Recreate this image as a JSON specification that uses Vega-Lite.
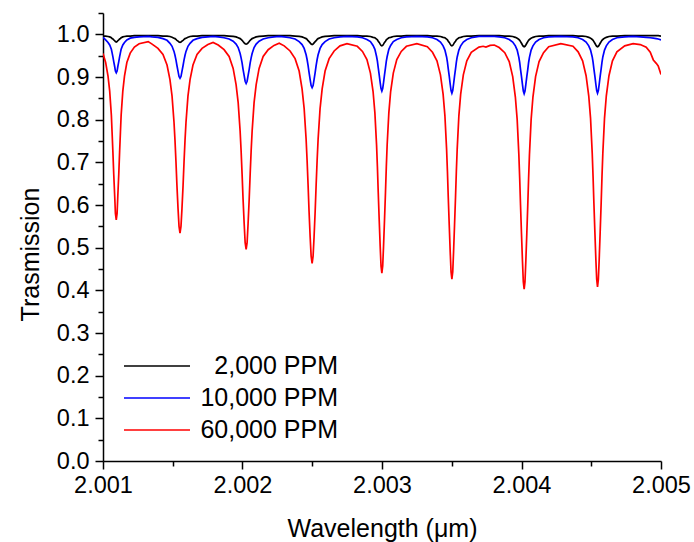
{
"$schema": "https://vega.github.io/schema/vega-lite/v6.json",
"width": 558, "height": 448,
"autosize": "none",
"padding": {"left": 103, "top": 13, "right": 33, "bottom": 81},
"background": "white",
"config": {
  "view": {"stroke": null},
  "font": "Liberation Sans",
  "axis": {"domainColor": "#000", "domainWidth": 1.5, "tickColor": "#000", "tickWidth": 1.5, "labelColor": "#000", "titleColor": "#000", "grid": false, "labelFont": "Liberation Sans", "titleFont": "Liberation Sans", "titleFontWeight": "normal"}
},
"data": {"values": [
{"w":2.001000,"k":0.996,"b":0.993,"r":0.955},
{"w":2.001019,"k":0.996,"b":0.987,"r":0.934},
{"w":2.001036,"k":0.995,"b":0.981,"r":0.902},
{"w":2.001048,"k":0.994,"b":0.975,"r":0.867},
{"w":2.001060,"k":0.992,"b":0.965,"r":0.810},
{"w":2.001065,"k":0.990,"b":0.957,"r":0.771},
{"w":2.001071,"k":0.989,"b":0.947,"r":0.724},
{"w":2.001077,"k":0.987,"b":0.936,"r":0.672},
{"w":2.001084,"k":0.985,"b":0.924,"r":0.620},
{"w":2.001089,"k":0.983,"b":0.914,"r":0.580},
{"w":2.001095,"k":0.982,"b":0.910,"r":0.565},
{"w":2.001101,"k":0.983,"b":0.914,"r":0.580},
{"w":2.001106,"k":0.985,"b":0.924,"r":0.620},
{"w":2.001113,"k":0.987,"b":0.936,"r":0.672},
{"w":2.001119,"k":0.989,"b":0.947,"r":0.724},
{"w":2.001125,"k":0.990,"b":0.957,"r":0.771},
{"w":2.001130,"k":0.992,"b":0.965,"r":0.810},
{"w":2.001142,"k":0.994,"b":0.975,"r":0.867},
{"w":2.001154,"k":0.995,"b":0.981,"r":0.902},
{"w":2.001171,"k":0.996,"b":0.987,"r":0.934},
{"w":2.001195,"k":0.996,"b":0.991,"r":0.956},
{"w":2.001225,"k":0.997,"b":0.993,"r":0.970},
{"w":2.001259,"k":0.997,"b":0.994,"r":0.978},
{"w":2.001324,"k":0.997,"b":0.995,"r":0.983},
{"w":2.001352,"k":0.997,"b":0.994,"r":0.977},
{"w":2.001394,"k":0.997,"b":0.993,"r":0.967},
{"w":2.001430,"k":0.996,"b":0.990,"r":0.953},
{"w":2.001459,"k":0.996,"b":0.986,"r":0.928},
{"w":2.001480,"k":0.995,"b":0.979,"r":0.894},
{"w":2.001495,"k":0.993,"b":0.972,"r":0.855},
{"w":2.001509,"k":0.991,"b":0.960,"r":0.794},
{"w":2.001516,"k":0.990,"b":0.951,"r":0.752},
{"w":2.001523,"k":0.988,"b":0.940,"r":0.702},
{"w":2.001530,"k":0.986,"b":0.927,"r":0.646},
{"w":2.001538,"k":0.984,"b":0.913,"r":0.591},
{"w":2.001545,"k":0.982,"b":0.901,"r":0.550},
{"w":2.001552,"k":0.981,"b":0.897,"r":0.534},
{"w":2.001559,"k":0.982,"b":0.901,"r":0.550},
{"w":2.001566,"k":0.984,"b":0.913,"r":0.591},
{"w":2.001574,"k":0.986,"b":0.927,"r":0.646},
{"w":2.001581,"k":0.988,"b":0.940,"r":0.702},
{"w":2.001588,"k":0.990,"b":0.951,"r":0.752},
{"w":2.001595,"k":0.991,"b":0.960,"r":0.794},
{"w":2.001609,"k":0.993,"b":0.972,"r":0.855},
{"w":2.001624,"k":0.995,"b":0.979,"r":0.894},
{"w":2.001645,"k":0.996,"b":0.986,"r":0.928},
{"w":2.001674,"k":0.996,"b":0.990,"r":0.953},
{"w":2.001710,"k":0.997,"b":0.993,"r":0.967},
{"w":2.001752,"k":0.997,"b":0.994,"r":0.976},
{"w":2.001789,"k":0.997,"b":0.995,"r":0.981},
{"w":2.001826,"k":0.997,"b":0.994,"r":0.975},
{"w":2.001868,"k":0.997,"b":0.992,"r":0.964},
{"w":2.001904,"k":0.996,"b":0.989,"r":0.948},
{"w":2.001933,"k":0.995,"b":0.984,"r":0.920},
{"w":2.001954,"k":0.994,"b":0.977,"r":0.882},
{"w":2.001969,"k":0.992,"b":0.969,"r":0.840},
{"w":2.001983,"k":0.990,"b":0.955,"r":0.773},
{"w":2.001990,"k":0.988,"b":0.945,"r":0.727},
{"w":2.001997,"k":0.986,"b":0.933,"r":0.673},
{"w":2.002004,"k":0.983,"b":0.918,"r":0.614},
{"w":2.002012,"k":0.980,"b":0.903,"r":0.556},
{"w":2.002019,"k":0.978,"b":0.890,"r":0.512},
{"w":2.002026,"k":0.977,"b":0.885,"r":0.496},
{"w":2.002033,"k":0.978,"b":0.890,"r":0.512},
{"w":2.002040,"k":0.980,"b":0.903,"r":0.556},
{"w":2.002048,"k":0.983,"b":0.918,"r":0.614},
{"w":2.002055,"k":0.986,"b":0.933,"r":0.673},
{"w":2.002062,"k":0.988,"b":0.945,"r":0.727},
{"w":2.002069,"k":0.990,"b":0.955,"r":0.773},
{"w":2.002083,"k":0.992,"b":0.969,"r":0.840},
{"w":2.002098,"k":0.994,"b":0.977,"r":0.882},
{"w":2.002119,"k":0.995,"b":0.984,"r":0.920},
{"w":2.002148,"k":0.996,"b":0.989,"r":0.948},
{"w":2.002184,"k":0.997,"b":0.992,"r":0.964},
{"w":2.002226,"k":0.997,"b":0.994,"r":0.974},
{"w":2.002263,"k":0.997,"b":0.995,"r":0.979},
{"w":2.002299,"k":0.997,"b":0.994,"r":0.973},
{"w":2.002341,"k":0.997,"b":0.992,"r":0.961},
{"w":2.002377,"k":0.996,"b":0.989,"r":0.943},
{"w":2.002406,"k":0.995,"b":0.983,"r":0.914},
{"w":2.002427,"k":0.994,"b":0.976,"r":0.872},
{"w":2.002442,"k":0.992,"b":0.967,"r":0.826},
{"w":2.002456,"k":0.990,"b":0.952,"r":0.754},
{"w":2.002463,"k":0.988,"b":0.941,"r":0.705},
{"w":2.002470,"k":0.985,"b":0.927,"r":0.648},
{"w":2.002477,"k":0.983,"b":0.911,"r":0.586},
{"w":2.002485,"k":0.980,"b":0.894,"r":0.525},
{"w":2.002492,"k":0.977,"b":0.880,"r":0.480},
{"w":2.002499,"k":0.976,"b":0.875,"r":0.463},
{"w":2.002506,"k":0.977,"b":0.880,"r":0.480},
{"w":2.002513,"k":0.980,"b":0.894,"r":0.525},
{"w":2.002521,"k":0.983,"b":0.911,"r":0.586},
{"w":2.002528,"k":0.985,"b":0.927,"r":0.648},
{"w":2.002535,"k":0.988,"b":0.941,"r":0.705},
{"w":2.002542,"k":0.990,"b":0.952,"r":0.754},
{"w":2.002556,"k":0.992,"b":0.967,"r":0.826},
{"w":2.002571,"k":0.994,"b":0.976,"r":0.872},
{"w":2.002592,"k":0.995,"b":0.983,"r":0.914},
{"w":2.002621,"k":0.996,"b":0.989,"r":0.943},
{"w":2.002657,"k":0.997,"b":0.992,"r":0.961},
{"w":2.002699,"k":0.997,"b":0.994,"r":0.973},
{"w":2.002749,"k":0.997,"b":0.995,"r":0.978},
{"w":2.002823,"k":0.997,"b":0.994,"r":0.972},
{"w":2.002860,"k":0.996,"b":0.992,"r":0.960},
{"w":2.002892,"k":0.996,"b":0.988,"r":0.941},
{"w":2.002917,"k":0.995,"b":0.983,"r":0.909},
{"w":2.002936,"k":0.993,"b":0.974,"r":0.866},
{"w":2.002949,"k":0.992,"b":0.965,"r":0.816},
{"w":2.002961,"k":0.989,"b":0.948,"r":0.741},
{"w":2.002967,"k":0.987,"b":0.937,"r":0.690},
{"w":2.002973,"k":0.984,"b":0.922,"r":0.630},
{"w":2.002980,"k":0.981,"b":0.905,"r":0.565},
{"w":2.002987,"k":0.977,"b":0.887,"r":0.503},
{"w":2.002993,"k":0.974,"b":0.873,"r":0.457},
{"w":2.002999,"k":0.973,"b":0.867,"r":0.440},
{"w":2.003005,"k":0.974,"b":0.873,"r":0.457},
{"w":2.003011,"k":0.977,"b":0.887,"r":0.503},
{"w":2.003018,"k":0.981,"b":0.905,"r":0.565},
{"w":2.003025,"k":0.984,"b":0.922,"r":0.630},
{"w":2.003031,"k":0.987,"b":0.937,"r":0.690},
{"w":2.003037,"k":0.989,"b":0.948,"r":0.741},
{"w":2.003049,"k":0.992,"b":0.965,"r":0.816},
{"w":2.003062,"k":0.993,"b":0.974,"r":0.866},
{"w":2.003081,"k":0.995,"b":0.983,"r":0.909},
{"w":2.003106,"k":0.996,"b":0.988,"r":0.941},
{"w":2.003138,"k":0.996,"b":0.992,"r":0.960},
{"w":2.003175,"k":0.997,"b":0.994,"r":0.972},
{"w":2.003250,"k":0.997,"b":0.995,"r":0.978},
{"w":2.003325,"k":0.997,"b":0.994,"r":0.971},
{"w":2.003362,"k":0.996,"b":0.992,"r":0.958},
{"w":2.003394,"k":0.996,"b":0.988,"r":0.938},
{"w":2.003419,"k":0.995,"b":0.982,"r":0.905},
{"w":2.003438,"k":0.993,"b":0.973,"r":0.860},
{"w":2.003451,"k":0.992,"b":0.963,"r":0.809},
{"w":2.003463,"k":0.989,"b":0.947,"r":0.731},
{"w":2.003469,"k":0.987,"b":0.935,"r":0.679},
{"w":2.003475,"k":0.984,"b":0.919,"r":0.618},
{"w":2.003482,"k":0.981,"b":0.902,"r":0.553},
{"w":2.003489,"k":0.977,"b":0.883,"r":0.490},
{"w":2.003495,"k":0.974,"b":0.868,"r":0.443},
{"w":2.003501,"k":0.973,"b":0.862,"r":0.426},
{"w":2.003507,"k":0.974,"b":0.868,"r":0.443},
{"w":2.003513,"k":0.977,"b":0.883,"r":0.490},
{"w":2.003520,"k":0.981,"b":0.902,"r":0.553},
{"w":2.003527,"k":0.984,"b":0.919,"r":0.618},
{"w":2.003533,"k":0.987,"b":0.935,"r":0.679},
{"w":2.003539,"k":0.989,"b":0.947,"r":0.731},
{"w":2.003551,"k":0.992,"b":0.963,"r":0.809},
{"w":2.003564,"k":0.993,"b":0.973,"r":0.860},
{"w":2.003583,"k":0.995,"b":0.982,"r":0.905},
{"w":2.003608,"k":0.996,"b":0.988,"r":0.938},
{"w":2.003640,"k":0.996,"b":0.992,"r":0.958},
{"w":2.003695,"k":0.997,"b":0.995,"r":0.970},
{"w":2.003725,"k":0.997,"b":0.995,"r":0.972},
{"w":2.003745,"k":0.997,"b":0.995,"r":0.970},
{"w":2.003775,"k":0.997,"b":0.995,"r":0.974},
{"w":2.003805,"k":0.997,"b":0.995,"r":0.975},
{"w":2.003840,"k":0.997,"b":0.994,"r":0.969},
{"w":2.003880,"k":0.996,"b":0.992,"r":0.957},
{"w":2.003912,"k":0.996,"b":0.988,"r":0.936},
{"w":2.003937,"k":0.995,"b":0.982,"r":0.901},
{"w":2.003956,"k":0.993,"b":0.973,"r":0.853},
{"w":2.003969,"k":0.991,"b":0.963,"r":0.800},
{"w":2.003981,"k":0.988,"b":0.946,"r":0.718},
{"w":2.003987,"k":0.986,"b":0.934,"r":0.663},
{"w":2.003993,"k":0.983,"b":0.918,"r":0.600},
{"w":2.004000,"k":0.979,"b":0.901,"r":0.532},
{"w":2.004007,"k":0.975,"b":0.882,"r":0.468},
{"w":2.004013,"k":0.972,"b":0.867,"r":0.420},
{"w":2.004019,"k":0.971,"b":0.861,"r":0.403},
{"w":2.004025,"k":0.972,"b":0.867,"r":0.420},
{"w":2.004031,"k":0.975,"b":0.882,"r":0.468},
{"w":2.004038,"k":0.979,"b":0.901,"r":0.532},
{"w":2.004045,"k":0.983,"b":0.918,"r":0.600},
{"w":2.004051,"k":0.986,"b":0.934,"r":0.663},
{"w":2.004057,"k":0.988,"b":0.946,"r":0.718},
{"w":2.004069,"k":0.991,"b":0.963,"r":0.800},
{"w":2.004082,"k":0.993,"b":0.973,"r":0.853},
{"w":2.004101,"k":0.995,"b":0.982,"r":0.901},
{"w":2.004126,"k":0.996,"b":0.988,"r":0.936},
{"w":2.004158,"k":0.996,"b":0.992,"r":0.957},
{"w":2.004195,"k":0.997,"b":0.994,"r":0.971},
{"w":2.004282,"k":0.997,"b":0.995,"r":0.978},
{"w":2.004369,"k":0.997,"b":0.994,"r":0.972},
{"w":2.004406,"k":0.996,"b":0.992,"r":0.959},
{"w":2.004438,"k":0.996,"b":0.988,"r":0.938},
{"w":2.004463,"k":0.995,"b":0.982,"r":0.903},
{"w":2.004482,"k":0.993,"b":0.973,"r":0.856},
{"w":2.004495,"k":0.991,"b":0.963,"r":0.803},
{"w":2.004507,"k":0.988,"b":0.947,"r":0.721},
{"w":2.004513,"k":0.986,"b":0.935,"r":0.667},
{"w":2.004519,"k":0.983,"b":0.919,"r":0.604},
{"w":2.004526,"k":0.979,"b":0.902,"r":0.537},
{"w":2.004533,"k":0.975,"b":0.883,"r":0.473},
{"w":2.004539,"k":0.972,"b":0.868,"r":0.426},
{"w":2.004545,"k":0.971,"b":0.862,"r":0.408},
{"w":2.004551,"k":0.972,"b":0.868,"r":0.426},
{"w":2.004557,"k":0.975,"b":0.883,"r":0.473},
{"w":2.004564,"k":0.979,"b":0.902,"r":0.537},
{"w":2.004571,"k":0.983,"b":0.919,"r":0.604},
{"w":2.004577,"k":0.986,"b":0.935,"r":0.667},
{"w":2.004583,"k":0.988,"b":0.947,"r":0.721},
{"w":2.004595,"k":0.991,"b":0.963,"r":0.803},
{"w":2.004608,"k":0.993,"b":0.973,"r":0.856},
{"w":2.004627,"k":0.995,"b":0.982,"r":0.903},
{"w":2.004652,"k":0.996,"b":0.988,"r":0.938},
{"w":2.004684,"k":0.996,"b":0.992,"r":0.959},
{"w":2.004740,"k":0.997,"b":0.994,"r":0.973},
{"w":2.004800,"k":0.997,"b":0.995,"r":0.978},
{"w":2.004851,"k":0.997,"b":0.994,"r":0.976},
{"w":2.004894,"k":0.997,"b":0.993,"r":0.970},
{"w":2.004923,"k":0.997,"b":0.992,"r":0.958},
{"w":2.004945,"k":0.997,"b":0.991,"r":0.940},
{"w":2.004966,"k":0.997,"b":0.990,"r":0.932},
{"w":2.004980,"k":0.997,"b":0.989,"r":0.926},
{"w":2.005000,"k":0.996,"b":0.987,"r":0.906}
]},
"transform": [{"fold": ["k", "b", "r"], "as": ["s", "t"]}],
"layer": [
  {
    "mark": {"type": "line", "strokeWidth": 1.7, "clip": true},
    "encoding": {
      "x": {"field": "w", "type": "quantitative",
        "scale": {"domain": [2.001, 2.005], "nice": false, "zero": false},
        "axis": {"title": "Wavelength (μm)", "orient": "bottom",
          "values": [2.001, 2.002, 2.003, 2.004, 2.005], "format": ".3f",
          "tickSize": 8,
          "labelFontSize": 23.5, "labelPadding": 4, "labelFlush": false, "labelOverlap": false,
          "titleFontSize": 25, "titleY": 75, "titleBaseline": "alphabetic"}},
      "y": {"field": "t", "type": "quantitative",
        "scale": {"domain": [0, 1.05], "nice": false, "zero": true},
        "axis": {"title": "Trasmission", "orient": "left",
          "values": [0, 0.1, 0.2, 0.3, 0.4, 0.5, 0.6, 0.7, 0.8, 0.9, 1.0], "format": ".1f",
          "tickSize": 8,
          "labelFontSize": 23.5, "labelPadding": 6, "labelOverlap": false, "labelFlush": false,
          "titleFontSize": 25, "titleX": -65, "titleY": 241, "titleBaseline": "alphabetic", "titleAlign": "center"}},
      "color": {"field": "s", "type": "nominal",
        "scale": {"domain": ["k", "b", "r"], "range": ["#000000", "#0000ff", "#ff0000"]},
        "legend": {"orient": "none", "legendX": 41, "legendY": 340, "title": null, "padding": 0,
          "symbolType": "M-2.75,0H2.75", "symbolSize": 576, "symbolStrokeWidth": 1.6,
          "labelFontSize": 25, "labelColor": "#000", "labelAlign": "right", "labelOffset": 168, "labelLimit": 0,
          "rowPadding": 6,
          "labelExpr": "datum.value == 'k' ? '2,000 PPM' : datum.value == 'b' ? '10,000 PPM' : '60,000 PPM'"}}
    }
  },
  {
    "mark": {"type": "point", "opacity": 0},
    "encoding": {
      "x": {"field": "w", "type": "quantitative",
        "axis": {"title": null, "orient": "bottom", "values": [2.0015, 2.0025, 2.0035, 2.0045],
          "tickSize": 5, "labels": false, "domain": false}},
      "y": {"field": "t", "type": "quantitative",
        "axis": {"title": null, "orient": "left",
          "values": [0.05, 0.15, 0.25, 0.35, 0.45, 0.55, 0.65, 0.75, 0.85, 0.95, 1.05],
          "tickSize": 5, "labels": false, "domain": false}}
    }
  }
],
"resolve": {"axis": {"x": "independent", "y": "independent"}}
}
